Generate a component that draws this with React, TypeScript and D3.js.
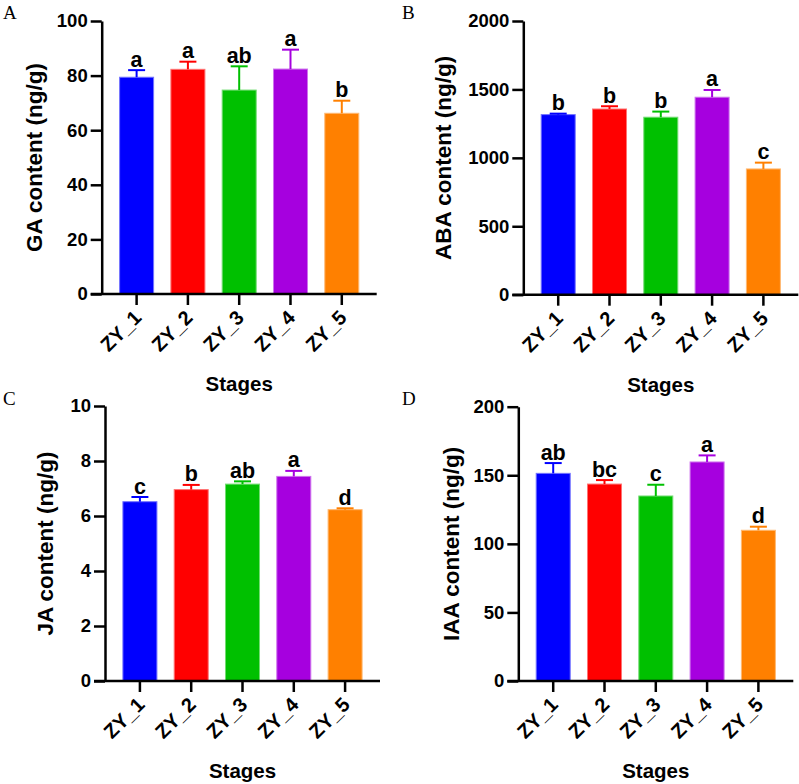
import React, { useRef, useEffect } from 'react';
import * as d3 from 'd3';

const stages = ['ZY_1', 'ZY_2', 'ZY_3', 'ZY_4', 'ZY_5'];
const barColors = ['#0000FF', '#FF0000', '#00C000', '#A600DF', '#FF8000'];

const gaMean = [79.4, 82.3, 74.7, 82.4, 66.2];
const gaErr = [2.6, 2.8, 8.7, 7.1, 4.6];
const gaLetters = ['a', 'a', 'ab', 'a', 'b'];
const gaTicks = [0, 20, 40, 60, 80, 100];

const abaMean = [1316, 1357, 1297, 1443, 919];
const abaErr = [7, 20, 41, 53, 46];
const abaLetters = ['b', 'b', 'b', 'a', 'c'];
const abaTicks = [0, 500, 1000, 1500, 2000];

const jaMean = [6.52, 6.96, 7.16, 7.44, 6.23];
const jaErr = [0.17, 0.17, 0.1, 0.2, 0.05];
const jaLetters = ['c', 'b', 'ab', 'a', 'd'];
const jaTicks = [0, 2, 4, 6, 8, 10];

const iaaMean = [151.4, 143.6, 134.9, 159.7, 109.9];
const iaaErr = [7.5, 2.9, 8.2, 4.8, 2.6];
const iaaLetters = ['ab', 'bc', 'c', 'a', 'd'];
const iaaTicks = [0, 50, 100, 150, 200];

const SANS = '"Liberation Sans", Arial, sans-serif';

const App = () => {
    const ref = useRef(null);

    useEffect(() => {
        const root = d3.select(ref.current);
        root.selectAll('*').remove();

        const svg = root.append('svg')
            .attr('width', 799)
            .attr('height', 784)
            .style('position', 'absolute')
            .style('left', 0)
            .style('top', 0)
            .style('background', '#fff');

        // one panel per hormone
        const panels = [
            { tag: 'A', title: 'GA content (ng/g)', mean: gaMean, err: gaErr, letters: gaLetters, ticks: gaTicks,
              ax: 101.7, top: 21, bottom: 294, titleX: 42, tagX: 3, tagY: 19 },
            { tag: 'B', title: 'ABA content (ng/g)', mean: abaMean, err: abaErr, letters: abaLetters, ticks: abaTicks,
              ax: 523.3, top: 21, bottom: 294.7, titleX: 451, tagX: 402, tagY: 19 },
            { tag: 'C', title: 'JA content (ng/g)', mean: jaMean, err: jaErr, letters: jaLetters, ticks: jaTicks,
              ax: 105, top: 406, bottom: 681, titleX: 53, tagX: 3, tagY: 405 },
            { tag: 'D', title: 'IAA content (ng/g)', mean: iaaMean, err: iaaErr, letters: iaaLetters, ticks: iaaTicks,
              ax: 518.3, top: 406.7, bottom: 681, titleX: 459, tagX: 402, tagY: 405 },
        ];

        panels.forEach(p => {
            const g = svg.append('g');
            const right = p.ax + 275;

            const x = d3.scaleBand()
                .domain(stages)
                .range([p.ax, right])
                .paddingInner(0.337)
                .paddingOuter(0.349);

            const y = d3.scaleLinear()
                .domain([0, d3.max(p.ticks)])
                .range([p.bottom, p.top]);

            const color = d3.scaleOrdinal().domain(stages).range(barColors);

            // bars
            g.selectAll('rect.bar')
                .data(stages)
                .join('rect')
                .attr('class', 'bar')
                .attr('x', d => x(d))
                .attr('y', (d, i) => y(p.mean[i]))
                .attr('width', x.bandwidth())
                .attr('height', (d, i) => p.bottom - y(p.mean[i]))
                .attr('fill', d => color(d))
                .attr('stroke', d => d3.interpolateRgb(color(d), '#fff')(0.45))
                .attr('stroke-width', 1);

            // error bars (upper only)
            const eb = g.selectAll('g.err')
                .data(stages)
                .join('g')
                .attr('class', 'err')
                .attr('stroke', d => color(d))
                .attr('stroke-width', 2);
            eb.append('line')
                .attr('x1', d => x(d) + x.bandwidth() / 2)
                .attr('x2', d => x(d) + x.bandwidth() / 2)
                .attr('y1', (d, i) => y(p.mean[i]))
                .attr('y2', (d, i) => y(p.mean[i] + p.err[i]));
            eb.append('line')
                .attr('x1', d => x(d) + x.bandwidth() / 2 - 8.5)
                .attr('x2', d => x(d) + x.bandwidth() / 2 + 8.5)
                .attr('y1', (d, i) => y(p.mean[i] + p.err[i]))
                .attr('y2', (d, i) => y(p.mean[i] + p.err[i]));

            // significance letters
            g.selectAll('text.sig')
                .data(stages)
                .join('text')
                .attr('class', 'sig')
                .attr('x', d => x(d) + x.bandwidth() / 2)
                .attr('y', (d, i) => y(p.mean[i] + p.err[i]) - 3.5)
                .attr('text-anchor', 'middle')
                .style('font-family', SANS)
                .style('font-weight', 'bold')
                .style('font-size', '21.5px')
                .text((d, i) => p.letters[i]);

            // y axis
            const yAxis = g.append('g')
                .attr('transform', `translate(${p.ax},0)`)
                .call(d3.axisLeft(y).tickValues(p.ticks).tickFormat(d3.format('d'))
                    .tickSize(11).tickPadding(3).tickSizeOuter(0));
            yAxis.select('.domain').attr('stroke-width', 2.5).attr('stroke', '#000');
            yAxis.selectAll('.tick line').attr('stroke-width', 2.5);
            yAxis.selectAll('.tick text')
                .style('font-family', SANS)
                .style('font-weight', 'bold')
                .style('font-size', '18.5px')
                .attr('fill', '#000');

            // x axis
            const xAxis = g.append('g')
                .attr('transform', `translate(0,${p.bottom})`)
                .call(d3.axisBottom(x).tickSize(11).tickSizeOuter(0));
            xAxis.select('.domain')
                .attr('d', `M${p.ax - 11},0H${right}`)
                .attr('stroke-width', 2.5)
                .attr('stroke', '#000');
            xAxis.selectAll('.tick line').attr('stroke-width', 2.5);
            xAxis.selectAll('.tick text')
                .attr('y', 0)
                .attr('dy', 0)
                .attr('transform', 'translate(6,25) rotate(-45)')
                .attr('text-anchor', 'end')
                .style('font-family', SANS)
                .style('font-weight', 'bold')
                .style('font-size', '20px')
                .attr('fill', '#000');

            // axis titles
            g.append('text')
                .attr('transform', `translate(${p.titleX},${(p.top + p.bottom) / 2}) rotate(-90)`)
                .attr('text-anchor', 'middle')
                .style('font-family', SANS)
                .style('font-weight', 'bold')
                .style('font-size', '22.5px')
                .text(p.title);

            g.append('text')
                .attr('x', (p.ax + right) / 2)
                .attr('y', p.bottom + 97)
                .attr('text-anchor', 'middle')
                .style('font-family', SANS)
                .style('font-weight', 'bold')
                .style('font-size', '20.5px')
                .text('Stages');

            // panel tag
            g.append('text')
                .attr('x', p.tagX)
                .attr('y', p.tagY)
                .style('font-family', '"Liberation Serif", "Times New Roman", serif')
                .style('font-size', '19px')
                .text(p.tag);
        });
    }, []);

    return <div ref={ref} style={{ width: 799, height: 784 }}></div>;
};

export default App;
